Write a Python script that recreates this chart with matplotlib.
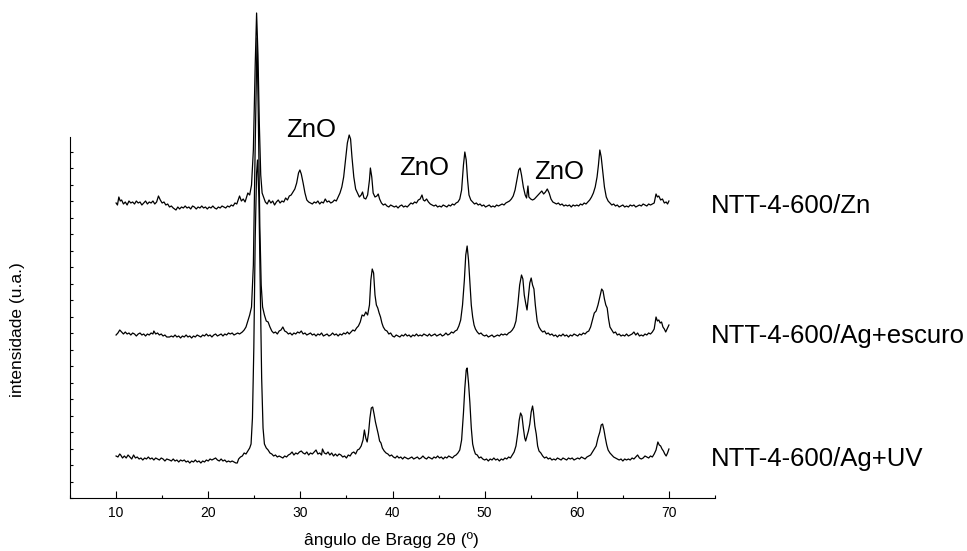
import numpy as np
import matplotlib
matplotlib.use('Agg')
import matplotlib.pyplot as plt
from matplotlib.ticker import MultipleLocator

plt.rcParams['font.family'] = ['Liberation Sans', 'DejaVu Sans']

# difratogramas (2theta, intensidade relativa u.a.)
zn_pts = [(10.0,2),(10.15,0),(10.3,8),(10.45,4),(10.6,5),(10.8,1),(11.0,3),(11.2,0),(11.4,4),(11.6,2),(11.8,3),(12.0,1),(12.2,4),(12.4,2),(12.6,3),(12.8,0),(13.0,2),(13.2,4),(13.4,1),(13.6,3),(13.8,2),(14.0,4),(14.2,1),(14.4,3),(14.6,9),(14.8,5),(15.0,2),(15.2,3),(15.4,0),(15.6,1),(15.8,-2),(16.0,-1),(16.2,-3),(16.5,-5),(16.7,-2),(16.9,-4),(17.1,-2),(17.3,-3),(17.5,-1),(17.7,-3),(17.9,-2),(18.1,-4),(18.3,-1),(18.5,-2),(18.7,-4),(18.9,-2),(19.1,-3),(19.3,-1),(19.5,-3),(19.7,-2),(19.9,-4),(20.1,-2),(20.3,-3),(20.5,-1),(20.7,-3),(20.9,-4),(21.1,-2),(21.3,-3),(21.5,-1),(21.7,-2),(21.9,-3),(22.1,-1),(22.3,-2),(22.5,0),(22.7,-1),(22.9,2),(23.1,1),(23.4,9),(23.6,4),(23.8,6),(24.0,3),(24.3,12),(24.5,10),(24.7,20),(24.9,55),(25.1,140),(25.25,192),(25.4,150),(25.55,80),(25.7,30),(25.85,12),(26.0,8),(26.2,3),(26.4,1),(26.6,5),(26.8,2),(27.0,4),(27.2,0),(27.4,3),(27.6,5),(27.8,2),(28.0,4),(28.2,3),(28.4,7),(28.6,5),(28.8,9),(29.0,10),(29.2,13),(29.4,16),(29.6,22),(29.8,32),(29.95,35),(30.1,31),(30.3,22),(30.5,12),(30.7,5),(30.9,3),(31.1,2),(31.3,1),(31.5,3),(31.7,2),(31.9,4),(32.1,1),(32.3,3),(32.5,2),(32.7,6),(32.9,3),(33.1,4),(33.3,2),(33.5,3),(33.7,5),(33.9,4),(34.1,8),(34.3,12),(34.5,18),(34.7,28),(34.9,45),(35.1,62),(35.3,70),(35.45,66),(35.6,48),(35.8,28),(36.0,16),(36.2,12),(36.4,8),(36.6,10),(36.75,13),(36.9,7),(37.1,6),(37.3,10),(37.5,25),(37.6,37),(37.75,28),(37.9,12),(38.1,8),(38.3,9),(38.45,11),(38.6,6),(38.8,2),(39.0,0),(39.2,1),(39.4,-1),(39.6,-2),(39.8,0),(40.0,-1),(40.2,-2),(40.4,-1),(40.6,-3),(40.8,-1),(41.0,0),(41.2,-2),(41.4,-1),(41.6,-2),(41.8,0),(42.0,2),(42.2,1),(42.4,3),(42.6,2),(42.8,5),(43.0,6),(43.2,10),(43.35,5),(43.5,4),(43.7,6),(43.9,3),(44.1,1),(44.3,0),(44.5,-1),(44.7,0),(44.9,-2),(45.1,-1),(45.3,-2),(45.5,0),(45.7,-1),(45.9,-2),(46.1,0),(46.3,-1),(46.5,1),(46.7,0),(46.9,2),(47.1,3),(47.3,6),(47.5,15),(47.7,40),(47.85,53),(48.0,45),(48.15,25),(48.3,10),(48.5,5),(48.7,3),(48.9,1),(49.1,2),(49.3,0),(49.5,1),(49.7,-1),(49.9,0),(50.1,-2),(50.3,-1),(50.5,0),(50.7,-2),(50.9,-1),(51.1,-2),(51.3,0),(51.5,-1),(51.7,0),(51.9,1),(52.1,0),(52.3,2),(52.5,3),(52.7,4),(52.9,6),(53.1,9),(53.3,15),(53.5,25),(53.7,35),(53.85,37),(54.0,30),(54.2,18),(54.4,10),(54.55,7),(54.7,19),(54.8,8),(55.0,6),(55.2,5),(55.4,6),(55.6,8),(55.8,10),(56.0,12),(56.2,14),(56.4,11),(56.6,13),(56.8,16),(57.0,12),(57.2,6),(57.4,3),(57.6,2),(57.8,1),(58.0,2),(58.2,0),(58.4,1),(58.6,-1),(58.8,0),(59.0,-1),(59.2,0),(59.4,-2),(59.6,0),(59.8,-1),(60.0,0),(60.2,-1),(60.4,1),(60.6,0),(60.8,2),(61.0,1),(61.2,3),(61.4,5),(61.6,8),(61.8,12),(62.0,18),(62.2,28),(62.35,40),(62.5,55),(62.65,48),(62.8,35),(63.0,18),(63.2,8),(63.4,4),(63.6,2),(63.8,0),(64.0,1),(64.2,-1),(64.4,0),(64.6,-2),(64.8,-1),(65.0,0),(65.2,-2),(65.4,-1),(65.6,-2),(65.8,0),(66.0,-1),(66.2,0),(66.4,-2),(66.6,-1),(66.8,0),(67.0,-1),(67.2,1),(67.4,0),(67.6,-1),(67.8,1),(68.0,0),(68.2,1),(68.4,2),(68.6,11),(68.75,8),(68.9,9),(69.1,5),(69.3,6),(69.5,2),(69.7,3),(69.85,1),(70.0,4)]

escuro_pts = [(10.0,0),(10.2,2),(10.4,5),(10.6,3),(10.8,1),(11.0,3),(11.2,1),(11.4,2),(11.6,0),(11.8,2),(12.0,1),(12.2,-1),(12.4,1),(12.6,2),(12.8,0),(13.0,1),(13.2,-1),(13.4,1),(13.6,0),(13.8,2),(14.0,1),(14.1,4),(14.3,1),(14.5,2),(14.7,0),(14.9,1),(15.1,-1),(15.3,0),(15.5,-2),(15.8,-2),(16.0,-1),(16.2,-2),(16.4,0),(16.6,-2),(16.8,-1),(17.0,-3),(17.2,-1),(17.4,-2),(17.6,0),(17.8,-2),(18.0,-1),(18.2,-3),(18.4,-1),(18.6,-2),(18.8,0),(19.0,-1),(19.2,-2),(19.4,0),(19.6,-1),(19.8,1),(20.0,-1),(20.2,0),(20.4,-2),(20.6,0),(20.8,1),(21.0,-1),(21.2,0),(21.4,1),(21.6,-1),(21.8,1),(22.0,0),(22.2,2),(22.4,1),(22.6,2),(22.8,0),(23.0,1),(23.2,2),(23.4,1),(23.7,3),(23.9,5),(24.1,8),(24.3,14),(24.5,20),(24.7,28),(24.9,70),(25.1,190),(25.3,297),(25.45,210),(25.6,110),(25.75,50),(25.9,28),(26.1,20),(26.3,14),(26.5,13),(26.7,8),(26.9,4),(27.1,2),(27.3,3),(27.5,1),(27.7,4),(27.9,5),(28.1,8),(28.3,4),(28.5,3),(28.7,1),(28.9,2),(29.1,0),(29.3,2),(29.5,1),(29.7,3),(29.9,2),(30.1,4),(30.3,1),(30.5,2),(30.7,0),(30.9,1),(31.1,2),(31.3,0),(31.5,1),(31.7,-1),(31.9,1),(32.1,0),(32.3,2),(32.5,-1),(32.7,0),(32.9,1),(33.1,-1),(33.3,0),(33.5,2),(33.7,0),(33.9,1),(34.1,-1),(34.3,1),(34.5,0),(34.7,2),(34.9,1),(35.1,3),(35.3,1),(35.5,3),(35.7,5),(35.9,4),(36.1,7),(36.3,9),(36.5,13),(36.7,20),(36.9,19),(37.1,23),(37.3,20),(37.5,30),(37.65,55),(37.8,66),(37.95,62),(38.1,40),(38.25,30),(38.4,27),(38.55,22),(38.7,18),(38.85,12),(39.0,8),(39.2,5),(39.4,4),(39.6,1),(39.8,2),(40.0,-1),(40.2,-2),(40.4,0),(40.6,-1),(40.8,-2),(41.0,0),(41.2,-1),(41.4,1),(41.6,-1),(41.8,0),(42.0,-2),(42.2,0),(42.4,-1),(42.6,1),(42.8,-1),(43.0,0),(43.2,-1),(43.4,1),(43.6,0),(43.8,-1),(44.0,1),(44.2,-1),(44.4,0),(44.6,1),(44.8,-1),(45.0,0),(45.2,1),(45.4,-1),(45.6,0),(45.8,2),(46.0,0),(46.2,1),(46.4,3),(46.6,2),(46.8,4),(47.0,5),(47.2,9),(47.4,15),(47.6,30),(47.8,55),(47.95,80),(48.1,89),(48.25,75),(48.4,52),(48.55,30),(48.7,18),(48.85,10),(49.0,6),(49.2,3),(49.4,1),(49.6,2),(49.8,0),(50.0,-1),(50.2,0),(50.4,-2),(50.6,-1),(50.8,0),(51.0,-2),(51.2,-1),(51.4,0),(51.6,-1),(51.8,1),(52.0,0),(52.2,1),(52.4,0),(52.6,2),(52.8,3),(53.0,5),(53.2,8),(53.4,14),(53.6,30),(53.8,50),(54.0,60),(54.15,56),(54.3,40),(54.45,32),(54.6,25),(54.75,38),(54.9,52),(55.05,57),(55.2,50),(55.35,46),(55.5,30),(55.7,14),(55.9,8),(56.1,5),(56.3,3),(56.5,4),(56.7,1),(56.9,2),(57.1,0),(57.3,1),(57.5,-1),(57.7,0),(57.9,-2),(58.1,0),(58.3,-1),(58.5,1),(58.7,-1),(58.9,0),(59.1,-2),(59.3,0),(59.5,-1),(59.7,1),(59.9,0),(60.1,-1),(60.3,1),(60.5,0),(60.7,2),(60.9,1),(61.1,3),(61.3,4),(61.5,8),(61.7,15),(61.9,22),(62.1,24),(62.3,30),(62.5,38),(62.7,46),(62.85,44),(63.0,36),(63.15,30),(63.3,27),(63.45,16),(63.6,8),(63.8,5),(64.0,2),(64.2,3),(64.4,0),(64.6,1),(64.8,-1),(65.0,0),(65.2,-1),(65.4,1),(65.6,-1),(65.8,0),(66.0,1),(66.2,3),(66.4,0),(66.6,2),(66.8,-1),(67.0,0),(67.2,-1),(67.4,1),(67.6,0),(67.8,2),(68.0,1),(68.2,3),(68.4,6),(68.6,18),(68.75,14),(68.9,15),(69.05,12),(69.2,13),(69.35,8),(69.5,6),(69.65,3),(69.8,6),(70.0,10)]

uv_pts = [(10.0,2),(10.2,1),(10.4,4),(10.5,3),(10.7,0),(10.9,2),(11.1,0),(11.3,3),(11.5,1),(11.7,-1),(11.9,3),(12.1,0),(12.3,1),(12.5,-1),(12.7,0),(12.9,-2),(13.1,0),(13.3,-1),(13.5,1),(13.7,-1),(13.9,0),(14.1,-2),(14.3,0),(14.5,-1),(14.7,-2),(14.9,0),(15.1,-1),(15.3,-3),(15.5,-1),(15.8,-2),(16.0,-3),(16.2,-1),(16.4,-3),(16.6,-2),(16.8,-4),(17.0,-2),(17.2,-3),(17.4,-2),(17.6,-4),(17.8,-3),(18.0,-5),(18.2,-3),(18.4,-4),(18.6,-2),(18.8,-4),(19.0,-3),(19.2,-5),(19.4,-3),(19.6,-4),(19.8,-2),(20.0,-3),(20.2,-1),(20.4,-2),(20.6,-1),(20.8,0),(21.0,-2),(21.2,-3),(21.4,-1),(21.6,-3),(21.8,-2),(22.0,-4),(22.2,-3),(22.4,-4),(22.6,-3),(22.8,-4),(23.0,-5),(23.15,-5),(23.3,-1),(23.5,1),(23.7,2),(23.9,5),(24.1,4),(24.3,7),(24.5,10),(24.65,14),(24.8,40),(24.95,110),(25.1,220),(25.25,285),(25.35,298),(25.5,260),(25.65,170),(25.8,80),(25.95,30),(26.1,14),(26.3,10),(26.5,8),(26.7,5),(26.9,4),(27.1,2),(27.3,3),(27.5,1),(27.7,2),(27.9,1),(28.1,0),(28.3,2),(28.5,1),(28.7,3),(28.9,4),(29.1,6),(29.3,3),(29.5,5),(29.7,4),(29.9,6),(30.1,7),(30.3,5),(30.5,4),(30.7,6),(30.9,3),(31.1,5),(31.3,4),(31.5,6),(31.7,8),(31.9,4),(32.1,5),(32.3,3),(32.4,9),(32.6,5),(32.8,4),(33.0,6),(33.2,3),(33.4,5),(33.6,2),(33.8,4),(34.0,2),(34.2,4),(34.4,3),(34.6,1),(34.8,2),(35.0,0),(35.2,3),(35.4,2),(35.6,5),(35.8,6),(36.0,4),(36.2,8),(36.4,9),(36.6,12),(36.8,18),(36.95,28),(37.1,20),(37.25,16),(37.4,25),(37.55,40),(37.7,50),(37.85,51),(38.0,44),(38.15,36),(38.3,30),(38.45,24),(38.6,17),(38.75,15),(38.9,10),(39.1,7),(39.3,5),(39.5,4),(39.7,2),(39.9,3),(40.1,1),(40.3,0),(40.5,2),(40.7,0),(40.9,1),(41.1,-1),(41.3,1),(41.5,0),(41.7,-1),(41.9,0),(42.1,1),(42.3,-1),(42.5,0),(42.7,1),(42.9,-1),(43.1,0),(43.3,2),(43.5,0),(43.7,-1),(43.9,1),(44.1,0),(44.3,-1),(44.5,1),(44.7,0),(44.9,2),(45.1,0),(45.3,1),(45.5,-1),(45.7,1),(45.9,0),(46.1,2),(46.3,1),(46.5,0),(46.7,2),(46.9,3),(47.1,5),(47.3,8),(47.5,18),(47.7,45),(47.85,70),(48.0,88),(48.1,90),(48.25,75),(48.4,55),(48.55,30),(48.7,14),(48.85,8),(49.0,4),(49.2,3),(49.4,0),(49.6,1),(49.8,-1),(50.0,-2),(50.2,-1),(50.4,-3),(50.6,-1),(50.8,-2),(51.0,0),(51.2,-2),(51.4,-1),(51.6,-3),(51.8,-1),(52.0,-2),(52.2,0),(52.4,-1),(52.6,1),(52.8,0),(53.0,3),(53.2,6),(53.4,12),(53.6,25),(53.75,38),(53.9,45),(54.05,42),(54.2,30),(54.35,20),(54.45,17),(54.6,22),(54.75,27),(54.9,34),(55.05,46),(55.2,52),(55.3,46),(55.45,32),(55.6,24),(55.75,12),(55.9,7),(56.1,5),(56.3,2),(56.5,0),(56.7,1),(56.9,-1),(57.1,0),(57.3,-2),(57.5,-1),(57.7,-2),(57.9,0),(58.1,-1),(58.3,-2),(58.5,0),(58.7,-1),(58.9,-2),(59.1,0),(59.3,-1),(59.5,0),(59.7,-2),(59.9,-1),(60.1,0),(60.3,-1),(60.5,1),(60.7,0),(60.9,-1),(61.1,1),(61.3,2),(61.5,3),(61.7,6),(61.9,9),(62.1,12),(62.3,20),(62.5,26),(62.65,33),(62.8,34),(62.95,28),(63.1,20),(63.25,13),(63.4,8),(63.6,5),(63.8,3),(64.0,1),(64.2,0),(64.4,-1),(64.6,-2),(64.8,-1),(65.0,-3),(65.2,-1),(65.4,-2),(65.6,-1),(65.8,-2),(66.0,0),(66.2,-1),(66.4,1),(66.6,3),(66.8,0),(67.0,-1),(67.2,0),(67.4,2),(67.6,1),(67.8,0),(68.0,2),(68.2,1),(68.4,4),(68.6,8),(68.8,16),(68.95,13),(69.1,12),(69.25,9),(69.4,7),(69.55,4),(69.7,2),(69.85,5),(70.0,9)]

series_names = ['NTT-4-600/Zn', 'NTT-4-600/Ag+escuro', 'NTT-4-600/Ag+UV']
offsets = [293, 163, 40]
zno_x = [31.2, 43.4, 58.1]
zno_y = [361, 323, 319]

fig = plt.figure(figsize=(9.67, 5.51), dpi=100)
ax = fig.add_axes([70/967, 53/551, 645/967, 361/551])

for pts, off, name in zip([zn_pts, escuro_pts, uv_pts], offsets, series_names):
    d = np.array(pts, dtype=float)
    ax.plot(d[:, 0], d[:, 1] + off, color='black', lw=0.9, clip_on=False)
    ax.text(74.6, off - 8, name, fontsize=18.5, ha='left', va='baseline')

for x, y in zip(zno_x, zno_y):
    ax.text(x, y, 'ZnO', fontsize=18.5, ha='center', va='baseline',
            bbox=dict(facecolor='white', edgecolor='none', pad=3))

ax.set_xlim(5, 75)
ax.set_ylim(0, 361)
ax.spines['top'].set_visible(False)
ax.spines['right'].set_visible(False)
ax.spines['left'].set_linewidth(0.8)
ax.spines['bottom'].set_linewidth(0.8)

ax.xaxis.set_major_locator(MultipleLocator(10))
ax.xaxis.set_minor_locator(MultipleLocator(5))
ax.set_xticks([10, 20, 30, 40, 50, 60, 70])
ax.tick_params(axis='x', which='major', direction='in', length=5, width=0.8,
               labelsize=10, pad=6)
ax.tick_params(axis='x', which='minor', direction='in', length=2.5, width=0.8)
ax.yaxis.set_major_locator(MultipleLocator(16.5))
ax.tick_params(axis='y', which='major', direction='in', length=2.5, width=0.8,
               labelleft=False)

fig.text(391/967, 1 - 540/551, 'ângulo de Bragg 2θ (º)', fontsize=12.5,
         ha='center', va='center')
fig.text(18/967, 1 - 330/551, 'intensidade (u.a.)', fontsize=12.5,
         rotation=90, ha='center', va='center')

fig.savefig('out.png', dpi=100)
